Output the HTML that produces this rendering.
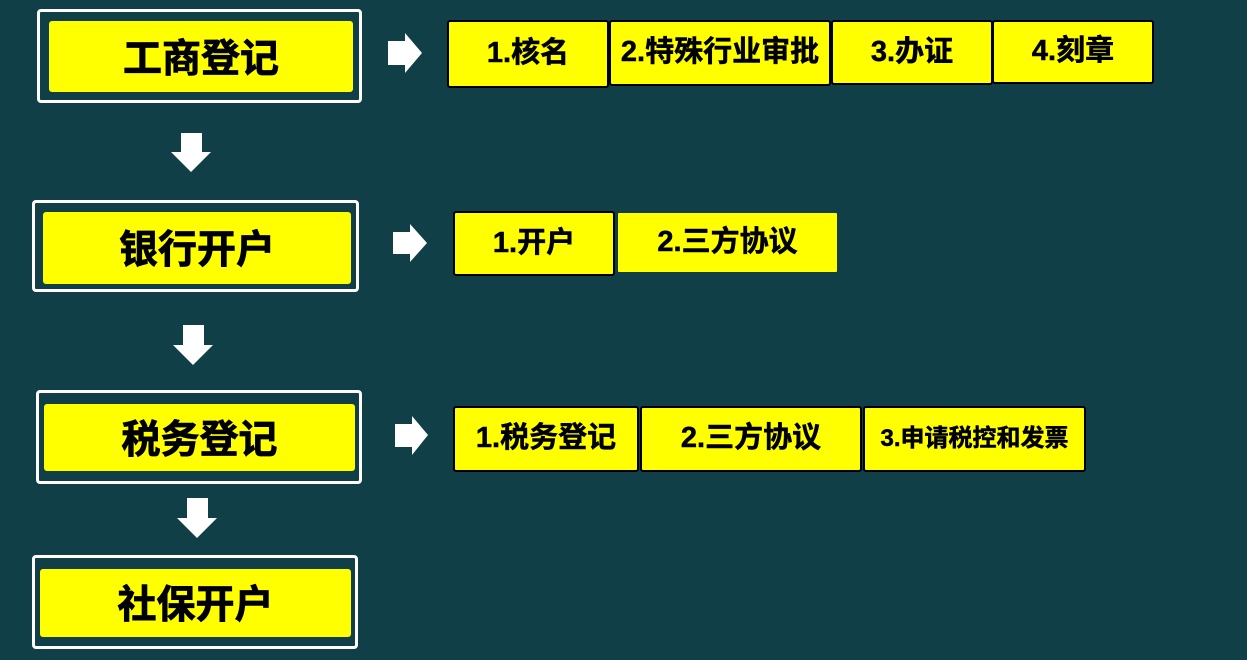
<!DOCTYPE html>
<html><head><meta charset="utf-8"><style>
body{margin:0;width:1247px;height:660px;background:#113f48;position:relative;overflow:hidden;font-family:"Liberation Sans","Noto Sans CJK SC","WenQuanYi Zen Hei",sans-serif;}
.o{position:absolute;border:3px solid #fff;border-radius:4px;box-sizing:border-box;}
.y{position:absolute;background:#ffff00;border-radius:3px;display:flex;align-items:center;justify-content:center;font-weight:bold;color:#000;font-size:39px;-webkit-text-stroke:0.8px #000;padding-bottom:2px;box-sizing:border-box;}
.s{position:absolute;background:#ffff00;border:2px solid #000;border-radius:3px;box-sizing:border-box;display:flex;align-items:center;justify-content:center;font-weight:bold;font-size:29px;padding-bottom:8px;-webkit-text-stroke:0.5px #000;white-space:nowrap;}
svg{position:absolute;}
</style></head><body>
<div class="o" style="left:37px;top:9px;width:325px;height:94px"></div>
<div class="y" style="left:49px;top:21px;width:304px;height:71px">工商登记</div>
<div class="o" style="left:32px;top:200px;width:327px;height:92px"></div>
<div class="y" style="left:43px;top:212px;width:308px;height:72px">银行开户</div>
<div class="o" style="left:36px;top:390px;width:326px;height:94px"></div>
<div class="y" style="left:44px;top:404px;width:311px;height:67px">税务登记</div>
<div class="o" style="left:32px;top:555px;width:326px;height:94px"></div>
<div class="y" style="left:40px;top:569px;width:311px;height:68px">社保开户</div>

<svg width="1247" height="660" style="left:0;top:0">
<g fill="#fff">
<polygon points="181,133 202,133 202,152 211,152 191,172 171,152 181,152"/>
<polygon points="183,325 204,325 204,345 213,345 193,365 173,345 183,345"/>
<polygon points="187,498 208,498 208,518 217,518 197,538 177,518 187,518"/>
<polygon points="388,41 405,41 405,33 422,53 405,73 405,65 388,65"/>
<polygon points="393,232 410,232 410,224 427,243 410,262 410,254 393,254"/>
<polygon points="395,424 412,424 412,416 428,435 412,455 412,447 395,447"/>
</g></svg>

<div class="s" style="left:447px;top:20px;width:162px;height:68px">1.核名</div>
<div class="s" style="left:609px;top:20px;width:222px;height:66px">2.特殊行业审批</div>
<div class="s" style="left:831px;top:20px;width:162px;height:65px">3.办证</div>
<div class="s" style="left:992px;top:20px;width:162px;height:64px">4.刻章</div>

<div class="s" style="left:453px;top:211px;width:162px;height:65px">1.开户</div>
<div class="s" style="left:616px;top:211px;width:223px;height:63px;border-color:#113f48">2.三方协议</div>

<div class="s" style="left:453px;top:406px;width:186px;height:66px">1.税务登记</div>
<div class="s" style="left:640px;top:406px;width:222px;height:66px">2.三方协议</div>
<div class="s" style="left:863px;top:406px;width:223px;height:66px;font-size:24px">3.申请税控和发票</div>
</body></html>
